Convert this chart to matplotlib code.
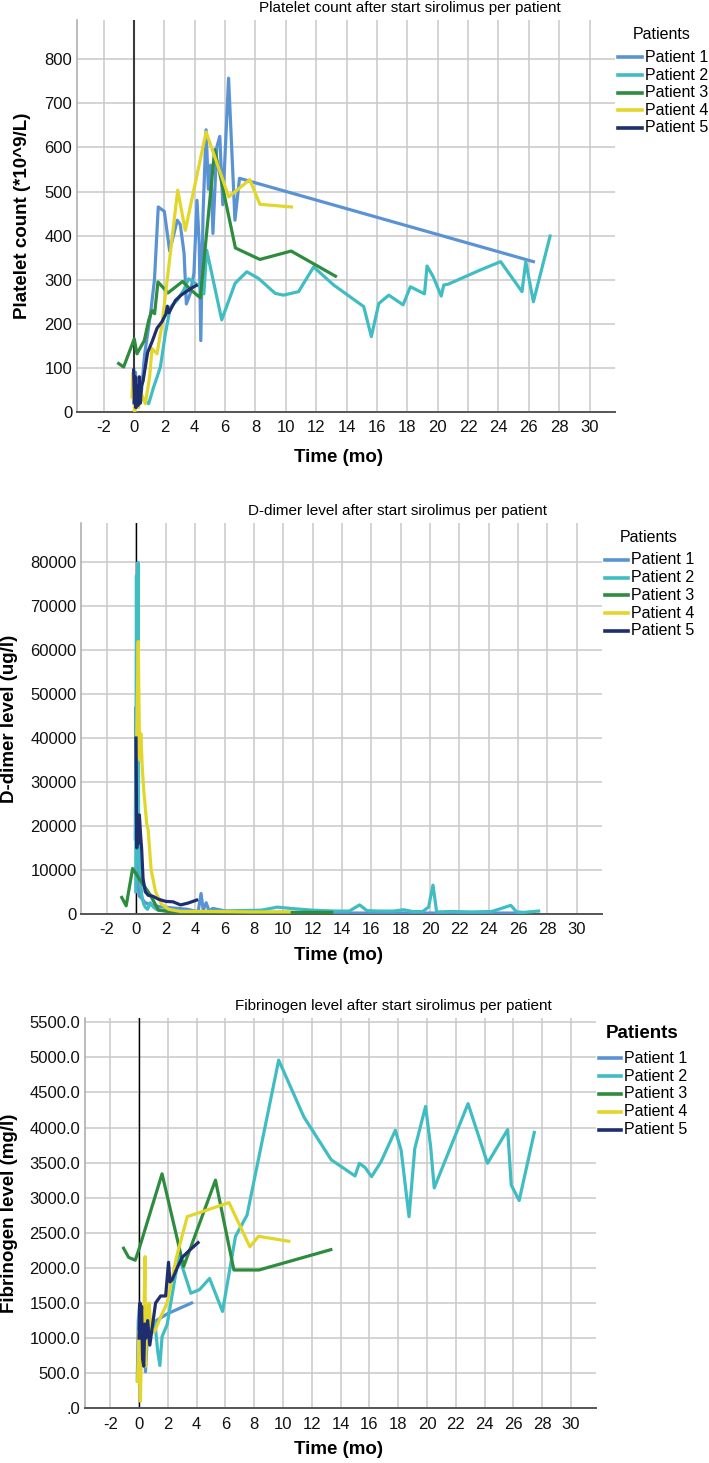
import matplotlib
matplotlib.use("Agg")
import matplotlib.pyplot as plt
from matplotlib.lines import Line2D
from matplotlib.ticker import FuncFormatter

# ---- figure size in pixels ----
W, H = 709, 1463

plt.rcParams['font.family'] = ['Liberation Sans', 'DejaVu Sans']
plt.rcParams['axes.unicode_minus'] = False

patients = ["Patient 1", "Patient 2", "Patient 3", "Patient 4", "Patient 5"]
colors = ["#5a93d3", "#40bdc2", "#2e8c3f", "#e3d62b", "#1f2e6e"]
x_ticks = list(range(-2, 31, 2))

# ---- Platelet count (*10^9/L) ----
plt_t1 = [0.0, 0.1, 0.2, 0.3, 0.45, 0.7, 1.1, 1.35, 1.6, 2.0, 2.35, 2.85, 3.05, 3.3, 3.45,
          3.7, 3.95, 4.15, 4.3, 4.4, 4.55, 4.75, 4.9, 5.05, 5.2, 5.45, 5.65, 5.85, 6.23,
          6.65, 6.95, 26.3]
plt_v1 = [20, 90, 15, 60, 30, 130, 225, 300, 465, 455, 365, 435, 425, 360, 245,
          268, 315, 480, 380, 162, 450, 640, 505, 560, 405, 600, 625, 470, 757,
          435, 530, 341]
plt_t2 = [0.1, 0.5, 0.97, 1.3, 1.52, 1.74, 2.07, 2.4, 2.84, 3.27, 3.6, 3.93, 4.3, 4.6, 4.79,
          5.78, 6.66, 7.43, 8.2, 9.3, 9.85, 10.84, 11.83, 13.15, 15.13, 15.63, 16.12,
          16.78, 17.72, 18.2, 19.13, 19.3, 19.7, 20.23, 20.4, 20.7, 22.8, 24.14, 25.55,
          25.8, 26.3, 27.4]
plt_v2 = [10, 30, 19, 57, 79, 102, 178, 238, 253, 276, 302, 295, 285, 268, 367,
          209, 292, 318, 303, 269, 265, 273, 329, 288, 239, 171, 246,
          265, 243, 284, 268, 331, 307, 263, 288, 290, 322, 341, 273,
          341, 250, 399]
plt_t3 = [-1.01, -0.68, 0.02, 0.2, 0.68, 0.97, 1.19, 1.36, 1.58, 2.24, 3.2, 3.78, 4.37,
          5.32, 6.68, 8.29, 10.35, 13.27]
plt_v3 = [110, 102, 166, 132, 162, 208, 230, 223, 295, 270, 296, 276, 259,
          595, 372, 346, 365, 308]
plt_t4 = [-0.13, -0.05, 0.05, 0.15, 0.3, 0.5, 0.75, 1.03, 1.19, 1.52, 1.85, 2.88, 3.38,
          4.75, 6.24, 7.63, 8.29, 10.37]
plt_v4 = [34, 90, 0, 60, 10, 40, 19, 79, 144, 132, 200, 503, 412,
          635, 488, 527, 471, 465]
plt_t5 = [-0.02, 0.03, 0.08, 0.13, 0.2, 0.27, 0.35, 0.42, 0.5, 0.6, 0.9, 1.2, 1.52, 1.85,
          2.1, 2.2, 2.3, 2.73, 3.1, 3.4, 3.75, 4.1]
plt_v5 = [95, 20, 80, 10, 60, 15, 80, 20, 60, 70, 135, 160, 190, 205,
          222, 240, 225, 253, 265, 272, 280, 287]

# ---- D-dimer level (ug/l) ----
dd_t1 = [-0.08, -0.03, 0.02, 0.07, 0.12, 0.2, 0.35, 0.6, 1.0, 1.6, 2.5, 3.5, 4.2, 4.4,
         4.55, 4.75, 4.95, 5.2, 6.5, 10.0, 15.0, 20.0, 26.3]
dd_v1 = [17000, 47000, 18500, 9000, 6000, 4000, 3500, 2500, 2000, 1600, 1300, 1000, 400, 4600,
         800, 2500, 600, 1200, 300, 200, 150, 150, 150]
dd_t2 = [-0.05, 0.0, 0.05, 0.1, 0.15, 0.24, 0.35, 0.47, 0.6, 0.75, 0.95, 1.15, 1.4, 2.0,
         3.0, 4.5, 5.5, 7.0, 8.5, 9.6, 10.5, 12.0, 13.5, 14.5, 15.2, 15.7, 16.5, 17.5,
         18.2, 18.8, 19.5, 19.9, 20.2, 20.45, 21.5, 22.8, 24.2, 25.5, 25.9, 26.4, 27.4]
dd_v2 = [5000, 77000, 12000, 80000, 15000, 9300, 4500, 2400, 1500, 1000, 2500, 1500, 900, 700,
         600, 500, 600, 700, 800, 1500, 1200, 800, 600, 600, 2000, 700, 600, 600,
         900, 500, 500, 1500, 6500, 400, 500, 400, 500, 1900, 400, 300, 600]
dd_t3 = [-1.0, -0.7, -0.26, 0.24, 0.92, 1.5, 2.4, 5.0, 10.3, 13.3]
dd_v3 = [3700, 1800, 10300, 7700, 4400, 800, 400, 300, 300, 300]
dd_t4 = [0.0, 0.12, 0.22, 0.3, 0.4, 0.5, 0.7, 0.8, 1.0, 1.3, 1.7, 2.2, 3.0, 5.0, 8.0, 10.4]
dd_v4 = [36000, 62000, 35000, 41000, 33000, 28000, 20500, 19000, 10000, 5000, 2200, 1000,
         500, 500, 400, 400]
dd_t5 = [-0.03, 0.02, 0.07, 0.12, 0.2, 0.28, 0.35, 0.45, 0.6, 0.8, 1.1, 1.5, 2.0, 2.5,
         3.0, 3.5, 4.1]
dd_v5 = [40000, 15000, 22000, 16000, 22500, 18000, 15000, 8000, 5000, 4200, 4000, 3300,
         2800, 2700, 2000, 2400, 3100]

# ---- Fibrinogen level (mg/l) ----
fib_t1 = [-0.12, -0.05, 0.05, 0.1, 0.2, 0.3, 0.45, 0.6, 0.8, 1.2, 2.0, 3.65]
fib_v1 = [400, 1250, 1500, 1000, 800, 1450, 520, 1100, 1200, 1250, 1350, 1500]
fib_t2 = [1.1, 1.3, 1.45, 1.6, 1.95, 2.76, 3.6, 4.2, 4.9, 5.8, 6.7, 7.5, 9.7, 11.45,
          13.35, 15.0, 15.3, 15.7, 16.15, 16.8, 17.8, 18.2, 18.75, 19.15, 19.9, 20.25,
          20.5, 22.85, 24.2, 25.6, 25.85, 26.4, 27.45]
fib_v2 = [1235, 810, 610, 1020, 1190, 2170, 1640, 1690, 1850, 1380, 2450, 2750, 4960, 4150,
          3540, 3310, 3490, 3430, 3300, 3510, 3960, 3680, 2730, 3700, 4300, 3730,
          3140, 4340, 3490, 3970, 3180, 2960, 3930]
fib_t3 = [-1.07, -0.72, -0.26, 0.02, 1.6, 3.1, 5.31, 6.59, 8.33, 13.32]
fib_v3 = [2280, 2150, 2110, 2280, 3340, 2020, 3250, 1970, 1970, 2260]
fib_t4 = [-0.1, 0.0, 0.1, 0.2, 0.3, 0.42, 0.45, 0.55, 0.7, 0.85, 1.1, 1.5, 1.95, 2.6,
          3.35, 6.25, 7.7, 8.3, 10.4]
fib_v4 = [380, 1100, 100, 1250, 900, 2160, 600, 1300, 1500, 1070, 1100, 1300, 1500, 2150,
          2730, 2930, 2300, 2450, 2380]
fib_t5 = [0.0, 0.07, 0.12, 0.18, 0.25, 0.33, 0.4, 0.48, 0.6, 0.75, 0.95, 1.15, 1.5, 1.85,
          2.05, 2.15, 2.3, 2.65, 3.0, 3.5, 4.1]
fib_v5 = [1000, 1500, 1100, 1450, 700, 600, 1200, 1000, 1250, 900, 1200, 1500, 1600, 1600,
          2080, 1800, 1830, 2000, 2150, 2250, 2360]

fig = plt.figure(figsize=(W / 100, H / 100), dpi=100)


def px_axes(left, right, top, bottom):
    return fig.add_axes([left / W, 1 - bottom / H, (right - left) / W, (bottom - top) / H])


def px_text(x, y, s, **kw):
    fig.text(x / W, 1 - y / H, s, **kw)


def draw_panel(box, series, yticks, ylim, yfmt, zero_lw, zero_col, title, title_xy,
               ylabel, ylabel_xy, xlabel_xy, legend, legend_title_kw):
    ax = px_axes(*box)
    for (t, v), c in zip(series, colors):
        ax.plot(t, v, color=c, lw=2.3, solid_joinstyle='round', zorder=3)
    ax.set_xlim(-3.75, 31.7)
    ax.set_ylim(*ylim)
    ax.set_xticks(x_ticks)
    ax.set_yticks(yticks)
    ax.yaxis.set_major_formatter(FuncFormatter(yfmt))
    ax.grid(True, color='#c9c9c9', lw=1.1)
    ax.set_axisbelow(True)
    ax.axvline(0, color=zero_col, lw=zero_lw, zorder=2)
    for s in ['top', 'right']:
        ax.spines[s].set_visible(False)
    ax.spines['left'].set_color('#a8a8a8')
    ax.spines['left'].set_linewidth(1.1)
    ax.spines['bottom'].set_color('#555555')
    ax.spines['bottom'].set_linewidth(1.4)
    ax.tick_params(length=0, labelsize=12, colors='#111111')
    ax.tick_params(axis='x', pad=6)
    ax.tick_params(axis='y', pad=3.5)

    px_text(title_xy[0], title_xy[1], title, ha='center', va='center', fontsize=11)
    px_text(xlabel_xy[0], xlabel_xy[1], "Time (mo)", ha='center', va='center',
            fontsize=13.5, fontweight='bold')
    px_text(ylabel_xy[0], ylabel_xy[1], ylabel, ha='center', va='center', rotation=90,
            fontsize=13.5, fontweight='bold')

    # legend
    head_x, head_y, line_x0, line_x1, text_x, rows = legend
    px_text(head_x, head_y, "Patients", ha='center', va='center', **legend_title_kw)
    for name, c, ry in zip(patients, colors, rows):
        fig.add_artist(Line2D([line_x0 / W, line_x1 / W], [1 - ry / H, 1 - ry / H],
                              transform=fig.transFigure, color=c, lw=2.6))
        px_text(text_x, ry, name, ha='left', va='center', fontsize=11.5)
    return ax


def plain(v, pos):
    return f"{v:.0f}"


def one_dec(v, pos):
    return ".0" if v == 0 else f"{v:.1f}"


draw_panel((77, 615.4, 20, 412),
           [(plt_t1, plt_v1), (plt_t2, plt_v2), (plt_t3, plt_v3), (plt_t4, plt_v4), (plt_t5, plt_v5)],
           list(range(0, 801, 100)), (0, 889), plain, 1.5, '#3a3a3a',
           "Platelet count after start sirolimus per patient", (410, 8),
           "Platelet count (*10^9/L)", (22.6, 216), (339, 457),
           (662, 34.3, 618, 641.6, 644.8, [57.3, 75, 92.7, 110.3, 128]),
           dict(fontsize=11.5))

draw_panel((81.4, 601.8, 523.3, 913.7),
           [(dd_t1, dd_v1), (dd_t2, dd_v2), (dd_t3, dd_v3), (dd_t4, dd_v4), (dd_t5, dd_v5)],
           list(range(0, 80001, 10000)), (0, 88900), plain, 1.0, 'black',
           "D-dimer level after start sirolimus per patient", (397, 511),
           "D-dimer level (ug/l)", (10, 719), (339, 955),
           (649, 537.3, 605.4, 628, 631.2, [560, 577.7, 595.3, 613, 630.7]),
           dict(fontsize=11.5))

draw_panel((85, 595.5, 1018, 1408.3),
           [(fib_t1, fib_v1), (fib_t2, fib_v2), (fib_t3, fib_v3), (fib_t4, fib_v4), (fib_t5, fib_v5)],
           list(range(0, 5501, 500)), (0, 5560), one_dec, 1.0, 'black',
           "Fibrinogen level after start sirolimus per patient", (393, 1006),
           "Fibrinogen level (mg/l)", (10, 1213), (339, 1450),
           (642.5, 1034, 598.6, 620.8, 624.4, [1058.3, 1076.3, 1094, 1111.7, 1130]),
           dict(fontsize=13.5, fontweight='bold'))

fig.savefig("out.png", dpi=100)
